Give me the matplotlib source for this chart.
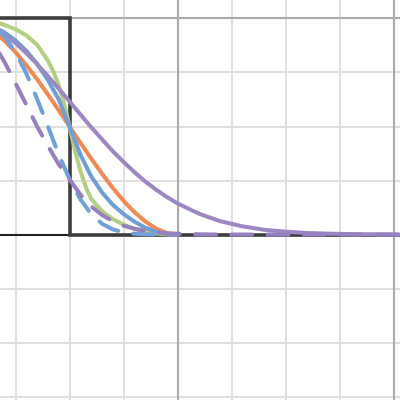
import matplotlib
matplotlib.use("Agg")
import matplotlib.pyplot as plt
import numpy as np

# ---- data ----
step_x = [0.0, 0.5, 0.5, 2.1]
step_y = [1.0, 1.0, 0.0, 0.0]

orange_x = [0.15, 0.2, 0.25, 0.3, 0.35, 0.4, 0.45, 0.5, 0.55, 0.6, 0.65, 0.7, 0.75, 0.8, 0.85, 0.9, 0.95, 1.0]
orange_y = [0.939, 0.896, 0.844, 0.784, 0.718, 0.648, 0.575, 0.5, 0.425, 0.352, 0.282, 0.216, 0.156, 0.104, 0.061, 0.028, 0.007, 0.0]

green_x = [0.15, 0.2, 0.25, 0.3, 0.35, 0.4, 0.425, 0.45, 0.475, 0.5, 0.525, 0.55, 0.575, 0.6, 0.65, 0.7, 0.75, 0.8, 0.85, 0.9, 0.95, 1.0]
green_y = [0.985, 0.970, 0.950, 0.922, 0.878, 0.805, 0.755, 0.69, 0.605, 0.5, 0.39, 0.295, 0.22, 0.165, 0.108, 0.072, 0.046, 0.027, 0.013, 0.005, 0.001, 0.0]

blue_x = [0.15, 0.2, 0.25, 0.3, 0.35, 0.4, 0.45, 0.5, 0.55, 0.6, 0.65, 0.7, 0.75, 0.8, 0.85, 0.9, 0.95, 1.0]
blue_y = [0.96, 0.935, 0.898, 0.85, 0.79, 0.715, 0.625, 0.5, 0.37, 0.27, 0.195, 0.138, 0.095, 0.06, 0.032, 0.013, 0.003, 0.0]

purple_x = [0.15, 0.2, 0.25, 0.3, 0.35, 0.4, 0.45, 0.5, 0.55, 0.6, 0.65, 0.7, 0.75, 0.8, 0.85, 0.9, 0.95, 1.0,
            1.1, 1.2, 1.3, 1.4, 1.5, 1.6, 1.7, 1.8, 1.9, 2.0, 2.1]
purple_y = [0.957, 0.925, 0.886, 0.840, 0.788, 0.733, 0.675, 0.616, 0.556, 0.497, 0.441, 0.386, 0.336, 0.289, 0.246, 0.208, 0.174, 0.144,
            0.096, 0.061, 0.038, 0.022, 0.013, 0.007, 0.004, 0.002, 0.001, 0.0, 0.0]

blue_dash_x = [0.15, 0.2, 0.25, 0.3, 0.35, 0.4, 0.45, 0.5, 0.55, 0.6, 0.65, 0.7, 0.75, 0.8, 0.85, 0.9, 1.0]
blue_dash_y = [0.964, 0.916, 0.843, 0.745, 0.627, 0.5, 0.37, 0.256, 0.163, 0.095, 0.05, 0.024, 0.01, 0.004, 0.001, 0.0, 0.0]

purple_dash_x = [0.15, 0.2, 0.25, 0.3, 0.35, 0.4, 0.45, 0.5, 0.55, 0.6, 0.65, 0.7, 0.75, 0.8, 0.85, 0.9, 0.95, 1.0, 1.1, 1.2, 1.5, 2.1]
purple_dash_y = [0.88, 0.797, 0.70, 0.60, 0.50, 0.41, 0.325, 0.255, 0.185, 0.13, 0.091, 0.062, 0.041, 0.027, 0.017, 0.010, 0.006, 0.0035, 0.001, 0.0, 0.0, 0.0]

x_minor = [0.25, 0.5, 0.75, 1.25, 1.5, 1.75]
x_major = [1.0, 2.0]
y_minor = [-0.75, -0.5, -0.25, 0.25, 0.5, 0.75]
y_major = [1.0]

# ---- figure ----
fig = plt.figure(figsize=(4, 4), dpi=100)
ax = fig.add_axes([0, 0, 1, 1])
ax.set_xlim(0.178, 2.030)
ax.set_ylim(-0.766, 1.0856)
ax.set_axis_off()

for v in x_minor:
    ax.axvline(v, color="#e0e0e0", lw=1.4, zorder=0)
for v in y_minor:
    ax.axhline(v, color="#e0e0e0", lw=1.4, zorder=0)
for v in x_major:
    ax.axvline(v, color="#ababab", lw=1.5, zorder=0.5)
for v in y_major:
    ax.axhline(v, color="#ababab", lw=1.5, zorder=0.5)
ax.axhline(0, color="#222222", lw=1.5, zorder=1)

ax.plot(step_x, step_y, color="#3d3d3d", lw=2.6, zorder=2, solid_joinstyle="miter")

lw = 2.9
ax.plot(orange_x, orange_y, color="#ef8a55", lw=lw, zorder=3, solid_capstyle="round")
ax.plot(green_x, green_y, color="#b3cf82", lw=lw, zorder=3, solid_capstyle="round")
ax.plot(blue_x, blue_y, color="#6f9ed6", lw=lw, zorder=3, solid_capstyle="round")
ax.plot(purple_x, purple_y, color="#9d87c3", lw=lw, zorder=3, solid_capstyle="round")
ax.plot(blue_dash_x, blue_dash_y, color="#72a0d8", lw=lw, zorder=4,
        dashes=(5.2, 3.8), dash_capstyle="round")
ax.plot(purple_dash_x, purple_dash_y, color="#9681bf", lw=lw, zorder=4,
        dashes=(5.2, 3.8), dash_capstyle="round")

fig.savefig("out.png", dpi=100)
